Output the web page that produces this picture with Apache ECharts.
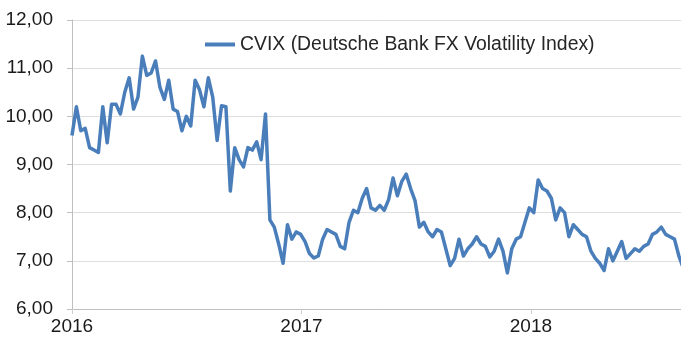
<!DOCTYPE html>
<html>
<head>
<meta charset="utf-8">
<script src="https://cdn.jsdelivr.net/npm/echarts@6/dist/echarts.min.js"></script>
<style>
  html, body { margin: 0; padding: 0; background: #fff; }
  #chart { width: 681px; height: 340px; }
</style>
</head>
<body>
<div id="chart"></div>
<script>
// weekly readings, first one at the start of 2016
const startYear = 2016;
const weekStep = 7 / 365.25;
const cvix = [
  9.6, 10.2, 9.7, 9.75, 9.35, 9.3, 9.25, 10.2, 9.45, 10.25,
  10.25, 10.05, 10.5, 10.8, 10.15, 10.4, 11.25, 10.85, 10.9, 11.15,
  10.6, 10.35, 10.75, 10.15, 10.1, 9.7, 10.0, 9.8, 10.75, 10.55,
  10.2, 10.8, 10.4, 9.5, 10.22, 10.2, 8.45, 9.35, 9.1, 8.95,
  9.35, 9.3, 9.47, 9.1, 10.05, 7.85, 7.7, 7.35, 6.95, 7.75,
  7.45, 7.6, 7.55, 7.4, 7.15, 7.06, 7.1, 7.45, 7.65, 7.6,
  7.55, 7.3, 7.25, 7.8, 8.05, 8.0, 8.3, 8.5, 8.1, 8.05,
  8.15, 8.05, 8.27, 8.72, 8.35, 8.65, 8.8, 8.5, 8.25, 7.7,
  7.8, 7.6, 7.5, 7.65, 7.6, 7.25, 6.9, 7.05, 7.45, 7.1,
  7.25, 7.35, 7.5, 7.35, 7.3, 7.08, 7.2, 7.45, 7.2, 6.75,
  7.25, 7.45, 7.5, 7.8, 8.1, 8.0, 8.68, 8.5, 8.45, 8.3,
  7.85, 8.1, 8.0, 7.5, 7.75, 7.65, 7.55, 7.5, 7.2, 7.05,
  6.95, 6.8, 7.25, 7.0, 7.2, 7.4, 7.05, 7.15, 7.25, 7.2,
  7.3, 7.35, 7.55, 7.6, 7.7, 7.55, 7.5, 7.45, 7.1, 6.85
];
const seriesName = 'CVIX (Deutsche Bank FX Volatility Index)';
const yTicks = [6, 7, 8, 9, 10, 11, 12];
const xTicks = [2016, 2017, 2018];
const xEnd = 2018.654;

const chart = echarts.init(document.getElementById('chart'), null, { renderer: 'canvas' });

const points = cvix.map((v, i) => [startYear + i * weekStep, v]);
const font = '"Liberation Sans", Arial, sans-serif';

chart.setOption({
  backgroundColor: '#fff',
  animation: false,
  legend: {
    data: [seriesName],
    left: 200,
    top: 30,
    itemWidth: 30,
    itemHeight: 4,
    icon: 'rect',
    textStyle: { fontFamily: font, fontSize: 19.4, color: '#262626' }
  },
  grid: { left: 72, right: 0, top: 20, bottom: 31, containLabel: false },
  xAxis: {
    type: 'value',
    min: xTicks[0],
    max: xEnd,
    interval: 1,
    axisLine: { lineStyle: { color: '#bfbfbf', width: 1 } },
    axisTick: { show: true, length: 5, lineStyle: { color: '#d0d0d0' } },
    splitLine: { show: false },
    axisLabel: {
      margin: 8,
      showMaxLabel: false,
      fontFamily: font,
      fontSize: 19,
      color: '#1a1a1a',
      formatter: v => (xTicks.includes(Math.round(v)) && Math.abs(v - Math.round(v)) < 1e-6) ? String(Math.round(v)) : ''
    }
  },
  yAxis: {
    type: 'value',
    min: yTicks[0],
    max: yTicks[yTicks.length - 1],
    interval: 1,
    axisLine: { show: true, lineStyle: { color: '#bfbfbf', width: 1 } },
    axisTick: { show: true, length: 5, lineStyle: { color: '#bfbfbf' } },
    splitLine: { lineStyle: { color: '#dedede', width: 1 } },
    axisLabel: {
      margin: 19,
      fontFamily: font,
      fontSize: 19,
      color: '#1a1a1a',
      formatter: v => v.toFixed(2).replace('.', ',')
    }
  },
  series: [{
    name: seriesName,
    type: 'line',
    data: points,
    showSymbol: false,
    symbol: 'none',
    clip: true,
    lineStyle: { color: '#4a7ebb', width: 3.5, join: 'round' },
    itemStyle: { color: '#4a7ebb' }
  }]
});
</script>
</body>
</html>
